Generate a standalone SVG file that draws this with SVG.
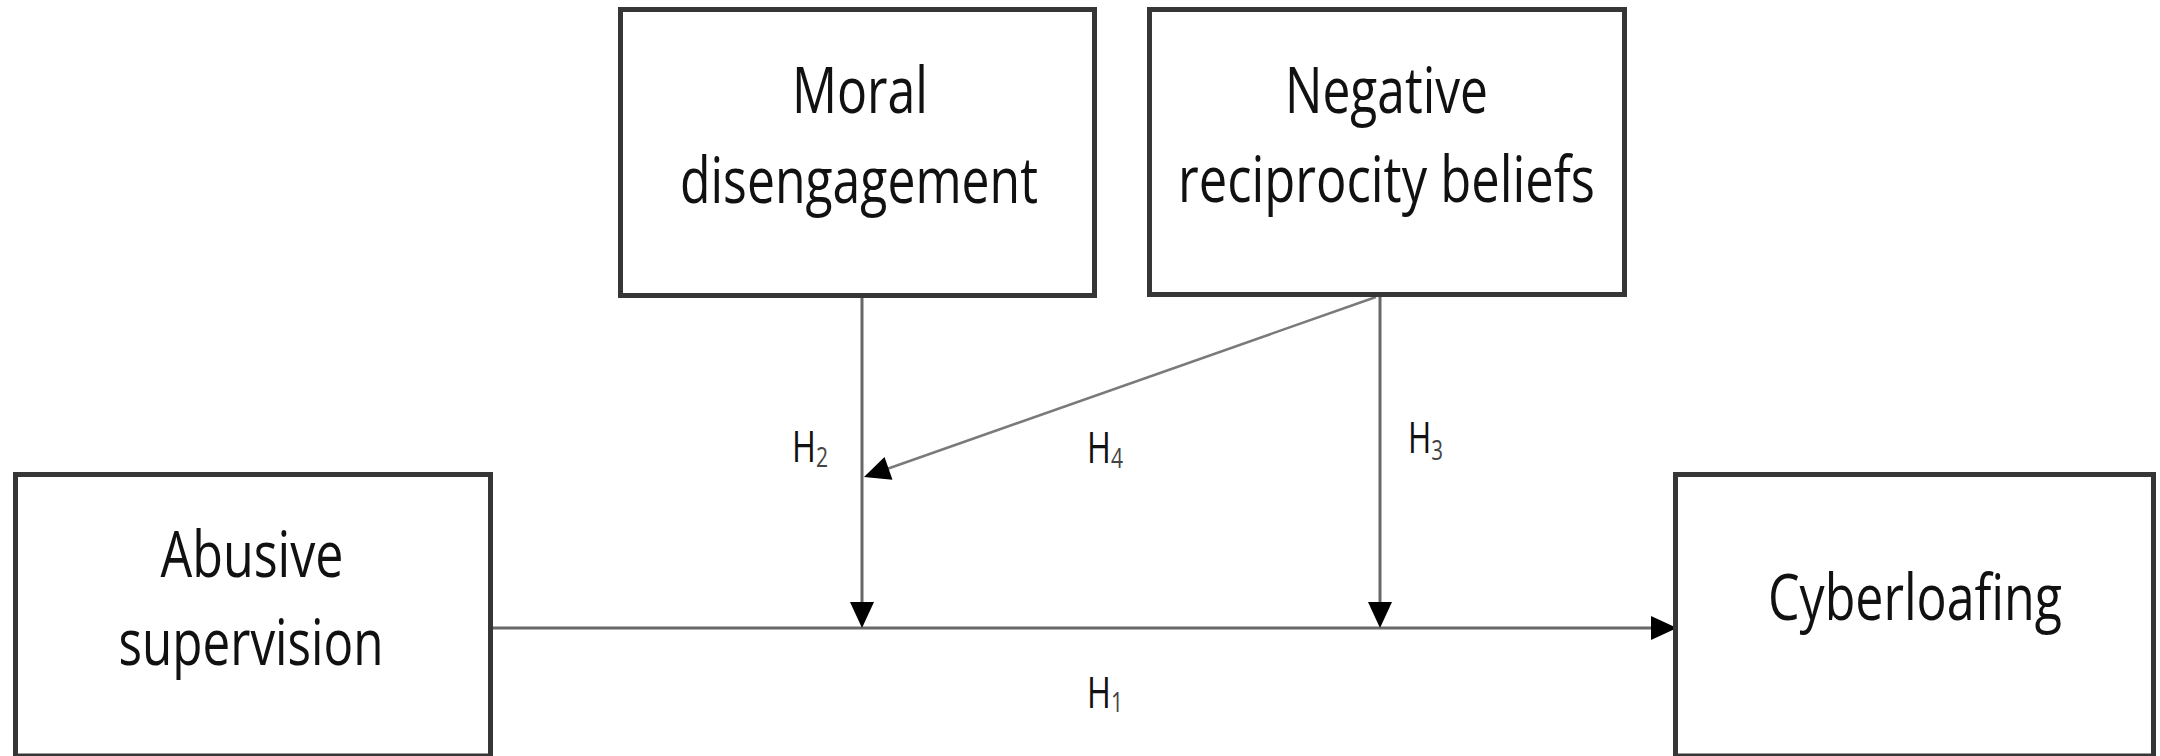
<svg xmlns="http://www.w3.org/2000/svg" width="2160" height="756" viewBox="0 0 2160 756">
  <style>
    .box { fill: #ffffff; stroke: #363636; stroke-width: 5; }
    .label { font-family: "Open Sans", "Liberation Sans", sans-serif; font-size: 64px; fill: #111111; text-anchor: middle; }
    .hyp { font-family: "Open Sans", "Liberation Sans", sans-serif; font-size: 43px; fill: #111111; }
    .hyp .sub { font-size: 28px; fill: #444444; }
    .link { stroke: #686868; stroke-width: 3; fill: none; marker-end: url(#arrow); }
    .link.diag { stroke: #7a7a7a; stroke-width: 2.5; }
  </style>
  <defs>
    <marker id="arrow" markerUnits="userSpaceOnUse" markerWidth="26" markerHeight="24" refX="16" refY="12" orient="auto" overflow="visible">
      <path d="M0,0 L26,12 L0,24 Z" fill="#000000"/>
    </marker>
  </defs>

  <rect x="0" y="0" width="2160" height="756" fill="#ffffff"/>

  <!-- connectors -->
  <g id="connectors">
    <line class="link" x1="493" y1="628" x2="1667" y2="628"/>
    <line class="link" x1="862" y1="298" x2="862" y2="618"/>
    <line class="link" x1="1380" y1="297" x2="1380" y2="618"/>
    <line class="link diag" x1="1376" y1="297" x2="873.4" y2="473.7"/>
  </g>

  <!-- hypothesis labels -->
  <g id="hypotheses" class="hyp">
    <text id="h1" x="1087" y="708" textLength="36" lengthAdjust="spacingAndGlyphs">H<tspan class="sub" dy="4">1</tspan></text>
    <text id="h2" x="792" y="462" textLength="36" lengthAdjust="spacingAndGlyphs">H<tspan class="sub" dy="5">2</tspan></text>
    <text id="h3" x="1408" y="453" textLength="35" lengthAdjust="spacingAndGlyphs">H<tspan class="sub" dy="7">3</tspan></text>
    <text id="h4" x="1087" y="463" textLength="36" lengthAdjust="spacingAndGlyphs">H<tspan class="sub" dy="5">4</tspan></text>
  </g>

  <!-- nodes -->
  <g id="moral-disengagement">
    <rect class="box" x="620.5" y="9.5" width="474" height="286"/>
    <text class="label" x="860" y="113" textLength="136" lengthAdjust="spacingAndGlyphs">Moral</text>
    <text class="label" x="859" y="203" textLength="358" lengthAdjust="spacingAndGlyphs">disengagement</text>
  </g>

  <g id="negative-reciprocity-beliefs">
    <rect class="box" x="1149.5" y="9.5" width="475" height="285"/>
    <text class="label" x="1386.5" y="113" textLength="203" lengthAdjust="spacingAndGlyphs">Negative</text>
    <text class="label" x="1386.5" y="202" textLength="417" lengthAdjust="spacingAndGlyphs">reciprocity beliefs</text>
  </g>

  <g id="abusive-supervision">
    <rect class="box" x="15.5" y="474.5" width="475" height="281.5"/>
    <text class="label" x="252" y="577" textLength="183" lengthAdjust="spacingAndGlyphs">Abusive</text>
    <text class="label" x="251" y="665" textLength="265" lengthAdjust="spacingAndGlyphs">supervision</text>
  </g>

  <g id="cyberloafing">
    <rect class="box" x="1675.5" y="474.5" width="478" height="281.5"/>
    <text class="label" x="1915" y="620" textLength="294" lengthAdjust="spacingAndGlyphs">Cyberloafing</text>
  </g>
</svg>
